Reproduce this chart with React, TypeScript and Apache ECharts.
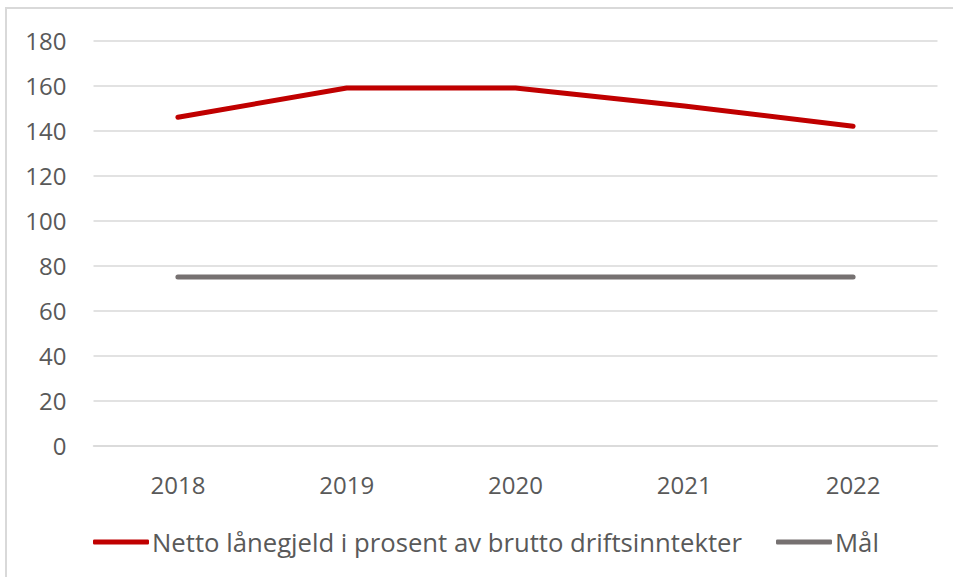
import React, { useEffect, useRef } from "react";
import * as echarts from "echarts";

const years = ["2018", "2019", "2020", "2021", "2022"];
const nettoLanegjeld = [146, 159, 159, 151, 142];
const maal = [75, 75, 75, 75, 75];
const seriesNames = ["Netto lånegjeld i prosent av brutto driftsinntekter", "Mål"];

export default function App() {
  const ref = useRef<HTMLDivElement>(null);
  useEffect(() => {
    if (!ref.current) return;
    const chart = echarts.init(ref.current, null, { renderer: "svg" });
    const font = "'Open Sans', Calibri, sans-serif";
    chart.setOption({
      animation: false,
      backgroundColor: "#ffffff",
      textStyle: { fontFamily: font },
      graphic: [
        {
          type: "rect",
          shape: { x: 6, y: 8, width: 960, height: 600 },
          style: { fill: "none", stroke: "#d9d9d9", lineWidth: 2 },
          silent: true,
        },
      ],
      grid: { left: 93.5, right: 15.5, top: 40.7, bottom: 131.3 },
      legend: {
        left: 88,
        top: 524,
        itemWidth: 56,
        itemHeight: 5,
        itemGap: 34,
        icon: "roundRect",
        textStyle: { fontSize: 25.7, color: "#595959", fontFamily: font, padding: [0, 0, 0, -2] },
        data: seriesNames,
      },
      xAxis: {
        type: "category",
        data: years,
        boundaryGap: true,
        axisLine: { show: true, lineStyle: { color: "#d9d9d9", width: 1.5 } },
        axisTick: { show: false },
        axisLabel: { fontSize: 24, color: "#595959", margin: 27, fontFamily: font },
      },
      yAxis: {
        type: "value",
        min: 0,
        max: 180,
        interval: 20,
        axisLine: { show: false },
        axisTick: { show: false },
        splitLine: { lineStyle: { color: "#d9d9d9", width: 1.5 } },
        axisLabel: { fontSize: 24, color: "#595959", margin: 27, fontFamily: font },
      },
      series: [
        {
          name: seriesNames[0],
          type: "line",
          data: nettoLanegjeld,
          symbol: "none",
          lineStyle: { color: "#c00000", width: 5, cap: "round", join: "round" },
          itemStyle: { color: "#c00000" },
        },
        {
          name: seriesNames[1],
          type: "line",
          data: maal,
          symbol: "none",
          lineStyle: { color: "#767171", width: 5, cap: "round" },
          itemStyle: { color: "#767171" },
        },
      ],
    });
    return () => chart.dispose();
  }, []);
  return (
    <div
      ref={ref}
      style={{ position: "fixed", left: 0, top: 0, width: 953, height: 577 }}
    />
  );
}
